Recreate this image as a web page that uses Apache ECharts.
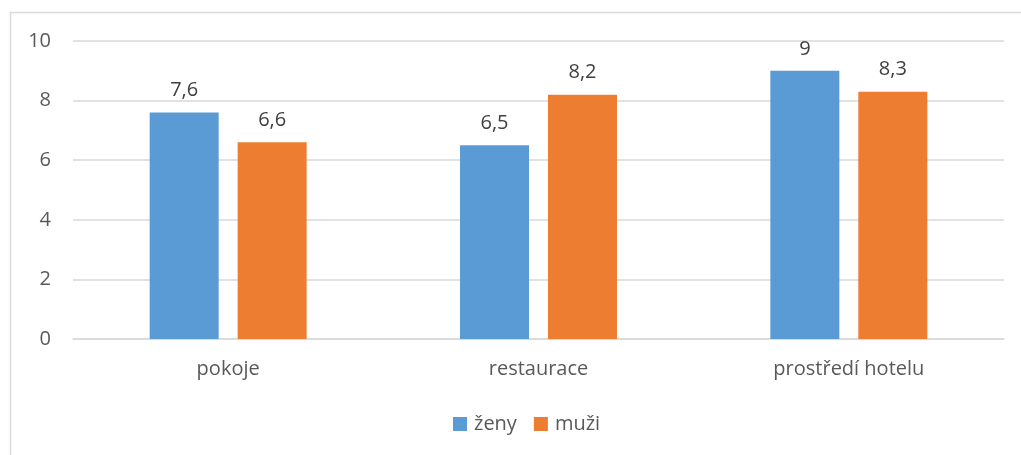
<!DOCTYPE html>
<html><head><meta charset="utf-8">
<script src="https://cdn.jsdelivr.net/npm/echarts@6/dist/echarts.min.js"></script>
<style>html,body{margin:0;padding:0;background:#fff}#c{width:1021px;height:455px}</style>
</head><body><div id="c"></div>
<script>
const categories = ['pokoje', 'restaurace', 'prostředí hotelu'];
const zeny = [7.6, 6.5, 9];
const muzi = [6.6, 8.2, 8.3];
const yTicks = [0, 2, 4, 6, 8, 10];

const font = '"Open Sans", "Noto Sans", sans-serif';
const fmt = p => String(p.value).replace('.', ',');
const chart = echarts.init(document.getElementById('c'));
chart.setOption({
  animation: false,
  textStyle: { fontFamily: font },
  graphic: [{ type: 'rect', shape: { x: 10.5, y: 12.5, width: 1100, height: 600 },
    style: { fill: 'none', stroke: '#d9d9d9', lineWidth: 1.5 }, silent: true }],
  grid: { left: 73, right: 17, top: 41, bottom: 116 },
  legend: {
    bottom: 16, left: 448, itemWidth: 14, itemHeight: 14, itemGap: 17,
    icon: 'rect',
    textStyle: { fontSize: 20, color: '#595959', fontFamily: font, padding: [0, 0, 0, 2] }
  },
  xAxis: {
    type: 'category', data: categories,
    axisLine: { lineStyle: { color: '#d9d9d9', width: 1.5 } },
    axisTick: { show: false },
    axisLabel: { fontSize: 20, color: '#595959', margin: 20, fontFamily: font }
  },
  yAxis: {
    type: 'value', min: yTicks[0], max: yTicks[yTicks.length - 1], interval: 2,
    axisLine: { show: false }, axisTick: { show: false },
    axisLabel: { fontSize: 20, color: '#595959', margin: 22, fontFamily: font },
    splitLine: { lineStyle: { color: '#d9d9d9', width: 1.5 } }
  },
  series: [
    { name: 'ženy', type: 'bar', data: zeny, barWidth: 69, barGap: '27.5%',
      itemStyle: { color: '#5b9bd5' },
      label: { show: true, position: 'top', distance: 12, fontSize: 20, color: '#404040', formatter: fmt, fontFamily: font } },
    { name: 'muži', type: 'bar', data: muzi, barWidth: 69,
      itemStyle: { color: '#ed7d31' },
      label: { show: true, position: 'top', distance: 12, fontSize: 20, color: '#404040', formatter: fmt, fontFamily: font } }
  ]
});
</script></body></html>
